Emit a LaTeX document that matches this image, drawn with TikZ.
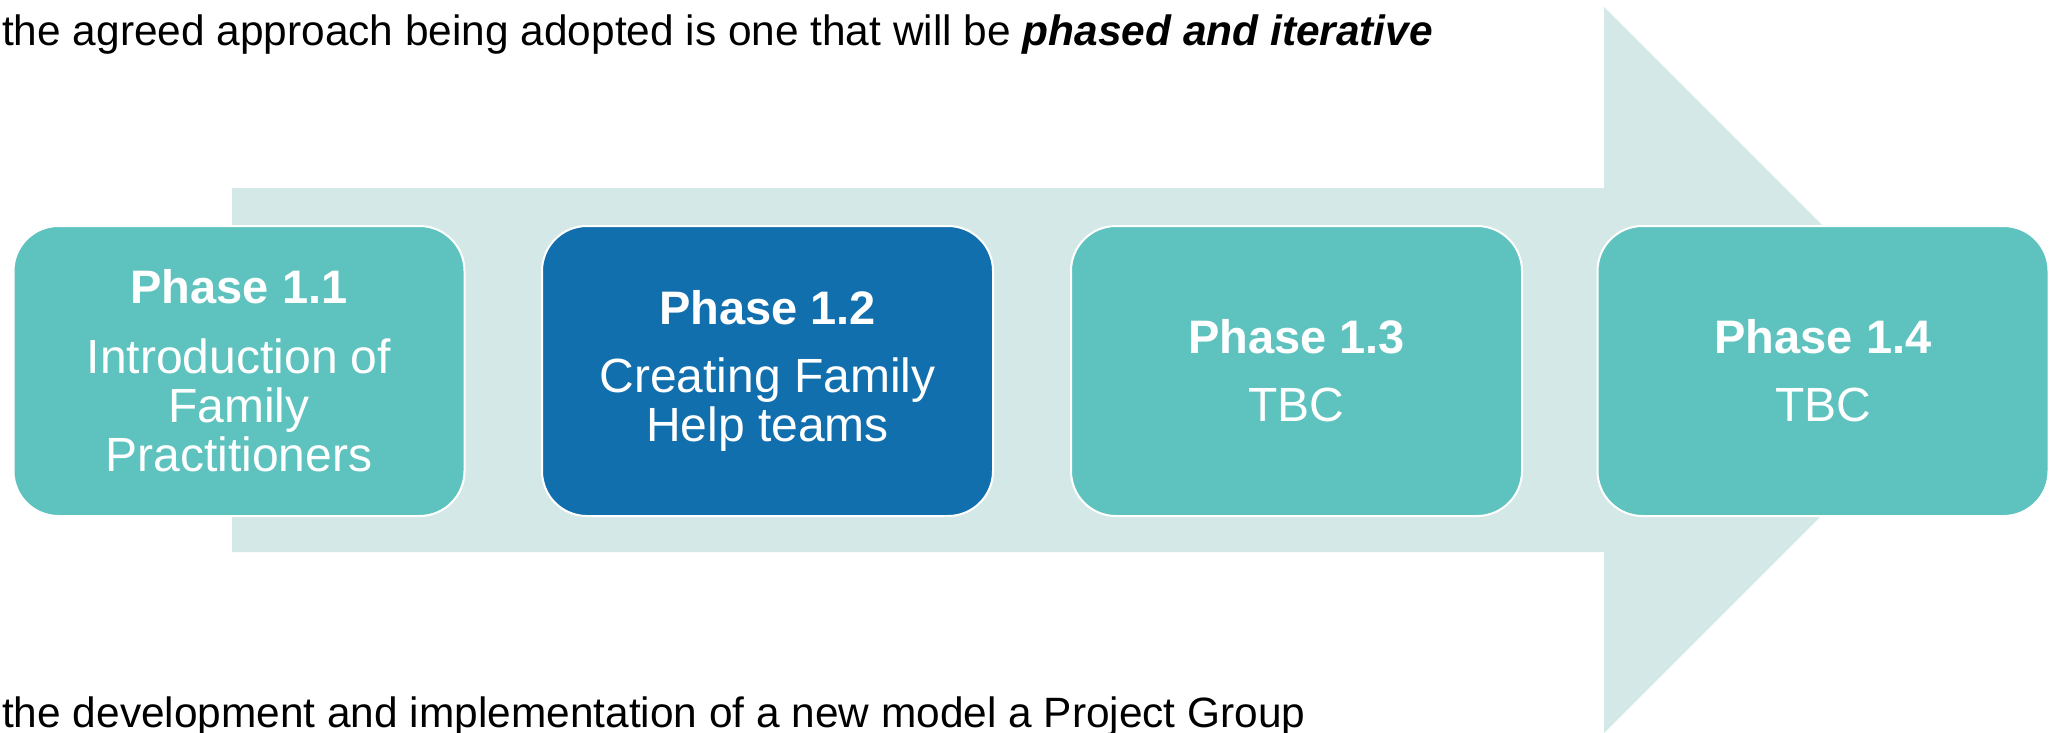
\documentclass[tikz,border=0pt]{standalone}
\usepackage{fontspec}
\setmainfont{Liberation Sans}
\definecolor{arrowfill}{RGB}{212,233,231}
\definecolor{tealbox}{RGB}{94,195,191}
\definecolor{bluebox}{RGB}{18,111,174}
\newcommand{\phasetitle}[1]{{\fontsize{47}{49}\selectfont\bfseries #1}}
\tikzset{
  phasebox/.style={rounded corners=45pt, draw=white, line width=2pt, minimum width=451pt, minimum height=290pt,
    text=white, align=center, inner sep=0pt, font=\fontsize{48}{49}\selectfont},
  bodytext/.style={anchor=base west, inner sep=0pt, font=\fontsize{42.4}{48}\selectfont, text=black}
}
\begin{document}
\begin{tikzpicture}[x=1pt,y=-1pt]
\useasboundingbox (0,0) rectangle (2057,732);
\fill[arrowfill] (232,188) -- (1604,188) -- (1604,7) -- (1967,370) -- (1604,733) -- (1604,552) -- (232,552) -- cycle;
\node[phasebox, fill=tealbox] (p1) at (239,371) {\phasetitle{Phase 1.1}\\[21pt]Introduction of\\Family\\Practitioners};
\node[phasebox, fill=bluebox] (p2) at (767.5,371) {\phasetitle{Phase 1.2}\\[19pt]Creating Family\\Help teams};
\node[phasebox, fill=tealbox] (p3) at (1296.5,371) {\phasetitle{Phase 1.3}\\[19pt]TBC};
\node[phasebox, fill=tealbox] (p4) at (1823,371) {\phasetitle{Phase 1.4}\\[19pt]TBC};
\node[bodytext] (top) at (2,45) {the agreed approach being adopted is one that will be \textbf{\textit{phased and iterative}}};
\node[bodytext] (bottom) at (2,727) {the development and implementation of a new model a Project Group};
\end{tikzpicture}
\end{document}
